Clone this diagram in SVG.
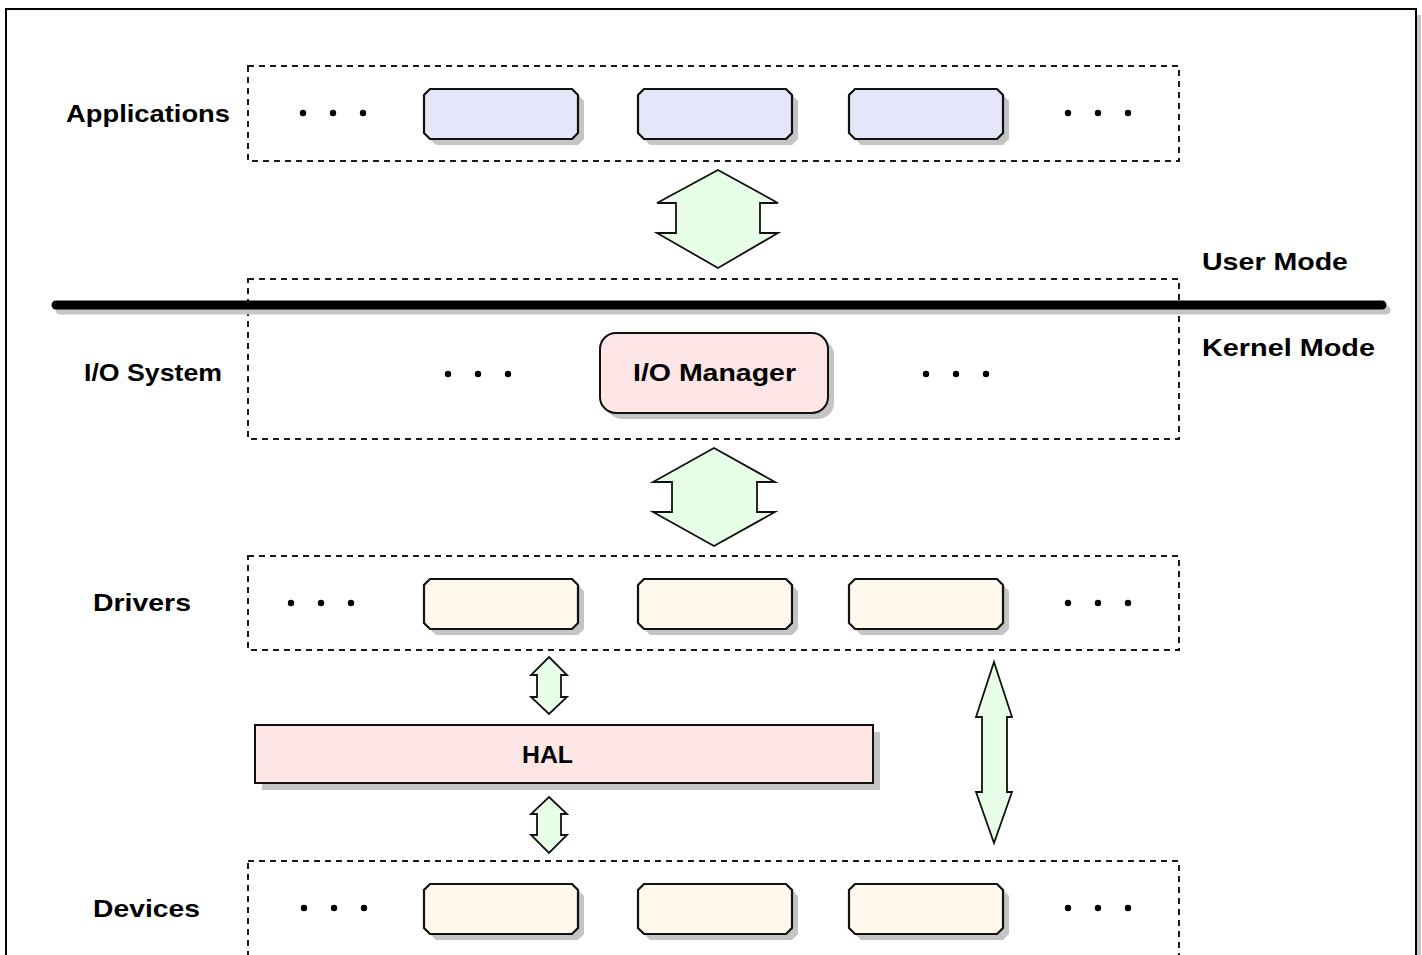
<svg xmlns="http://www.w3.org/2000/svg" width="1422" height="955" viewBox="0 0 1422 955">
  <defs>
    <style>
      .frame { fill: #ffffff; stroke: #000000; stroke-width: 2; }
      .shadow { fill: #c4c4c4; stroke: none; }
      .layer { fill: none; stroke: #1a1a1a; stroke-width: 2; stroke-dasharray: 6 5; }
      .app { fill: #e6e6fa; stroke: #111111; stroke-width: 2.2; }
      .drv { fill: #fff8ec; stroke: #111111; stroke-width: 2.2; }
      .mgr { fill: #ffe6e6; stroke: #111111; stroke-width: 2; }
      .flow { fill: #e6ffe6; stroke: #111111; stroke-width: 1.8; stroke-linejoin: miter; }
      .dot { fill: #000000; }
      .lbl { font-family: "Liberation Sans", Arial, sans-serif; font-weight: bold; font-size: 24px; fill: #000000; }
    </style>
    <!-- chamfered component box, 154 x 50 -->
    <polygon id="chip" points="6,0 148,0 154,6 154,44 148,50 6,50 0,44 0,6"/>
    <g id="dots3">
      <circle cx="0" cy="0" r="3.2"/>
      <circle cx="30" cy="0" r="3.2"/>
      <circle cx="60" cy="0" r="3.2"/>
    </g>
  </defs>

  <!-- outer frame -->
  <rect class="shadow" x="12" y="15" width="1409" height="960"/>
  <rect class="frame" x="6" y="9" width="1410" height="960"/>

  <!-- layer bands -->
  <g id="layers">
    <rect id="band-apps" class="layer" x="248" y="66" width="931" height="95"/>
    <rect id="band-io" class="layer" x="248" y="279" width="931" height="160"/>
    <rect id="band-drivers" class="layer" x="248" y="556" width="931" height="94"/>
    <rect id="band-devices" class="layer" x="248" y="861" width="931" height="140"/>
  </g>

  <!-- user / kernel boundary -->
  <g id="boundary">
    <line x1="60" y1="310" x2="1386" y2="310" stroke="#c4c4c4" stroke-width="9" stroke-linecap="round"/>
    <line x1="56" y1="305" x2="1382" y2="305" stroke="#000000" stroke-width="9" stroke-linecap="round"/>
  </g>

  <!-- row labels -->
  <g id="labels">
    <text class="lbl" x="66" y="122" textLength="164" lengthAdjust="spacingAndGlyphs">Applications</text>
    <text class="lbl" x="84" y="381" textLength="138" lengthAdjust="spacingAndGlyphs">I/O System</text>
    <text class="lbl" x="93" y="611" textLength="98" lengthAdjust="spacingAndGlyphs">Drivers</text>
    <text class="lbl" x="93" y="917" textLength="107" lengthAdjust="spacingAndGlyphs">Devices</text>
    <text class="lbl" x="1202" y="270" textLength="146" lengthAdjust="spacingAndGlyphs">User Mode</text>
    <text class="lbl" x="1202" y="356" textLength="173" lengthAdjust="spacingAndGlyphs">Kernel Mode</text>
  </g>

  <!-- applications -->
  <g id="applications">
    <g class="dot"><use href="#dots3" x="303" y="113"/><use href="#dots3" x="1068" y="113"/></g>
    <g id="app-1"><use href="#chip" class="shadow" x="430" y="95"/><use href="#chip" class="app" x="424" y="89"/></g>
    <g id="app-2"><use href="#chip" class="shadow" x="644" y="95"/><use href="#chip" class="app" x="638" y="89"/></g>
    <g id="app-3"><use href="#chip" class="shadow" x="855" y="95"/><use href="#chip" class="app" x="849" y="89"/></g>
  </g>

  <!-- I/O system -->
  <g id="io-system">
    <g class="dot"><use href="#dots3" x="448" y="374"/><use href="#dots3" x="926" y="374"/></g>
    <g id="io-manager">
      <rect class="shadow" x="606" y="339" width="228" height="80" rx="16"/>
      <rect class="mgr" x="600" y="333" width="228" height="80" rx="16"/>
      <text class="lbl" x="633" y="381" textLength="163" lengthAdjust="spacingAndGlyphs">I/O Manager</text>
    </g>
  </g>

  <!-- drivers -->
  <g id="drivers">
    <g class="dot"><use href="#dots3" x="291" y="603"/><use href="#dots3" x="1068" y="603"/></g>
    <g id="drv-1"><use href="#chip" class="shadow" x="430" y="585"/><use href="#chip" class="drv" x="424" y="579"/></g>
    <g id="drv-2"><use href="#chip" class="shadow" x="644" y="585"/><use href="#chip" class="drv" x="638" y="579"/></g>
    <g id="drv-3"><use href="#chip" class="shadow" x="855" y="585"/><use href="#chip" class="drv" x="849" y="579"/></g>
  </g>

  <!-- hardware abstraction layer -->
  <g id="hal">
    <rect class="shadow" x="262" y="732" width="618" height="58"/>
    <rect class="mgr" x="255" y="725" width="618" height="58"/>
    <text class="lbl" x="522" y="763" textLength="51" lengthAdjust="spacingAndGlyphs">HAL</text>
  </g>

  <!-- devices -->
  <g id="devices">
    <g class="dot"><use href="#dots3" x="304" y="908"/><use href="#dots3" x="1068" y="908"/></g>
    <g id="dev-1"><use href="#chip" class="shadow" x="430" y="890"/><use href="#chip" class="drv" x="424" y="884"/></g>
    <g id="dev-2"><use href="#chip" class="shadow" x="644" y="890"/><use href="#chip" class="drv" x="638" y="884"/></g>
    <g id="dev-3"><use href="#chip" class="shadow" x="855" y="890"/><use href="#chip" class="drv" x="849" y="884"/></g>
  </g>

  <!-- connectors: two-way flow arrows -->
  <g id="connectors">
    <polygon class="flow" points="718,170 778,203 760,203 760,233 778,233 718,268 657,233 676,233 676,203 657,203"/>
    <polygon class="flow" points="714,448 775,482 757,482 757,512 775,512 714,546 653,512 672,512 672,482 653,482"/>
    <polygon class="flow" points="549,657 567,675 561,675 561,697 567,697 549,714 531,697 537,697 537,675 531,675"/>
    <polygon class="flow" points="549,797 567,814 561,814 561,835 567,835 549,853 531,835 537,835 537,814 531,814"/>
    <polygon class="flow" points="994,662 1012,717 1007,717 1007,792 1012,792 994,843 976,792 982,792 982,717 976,717"/>
  </g>
</svg>
